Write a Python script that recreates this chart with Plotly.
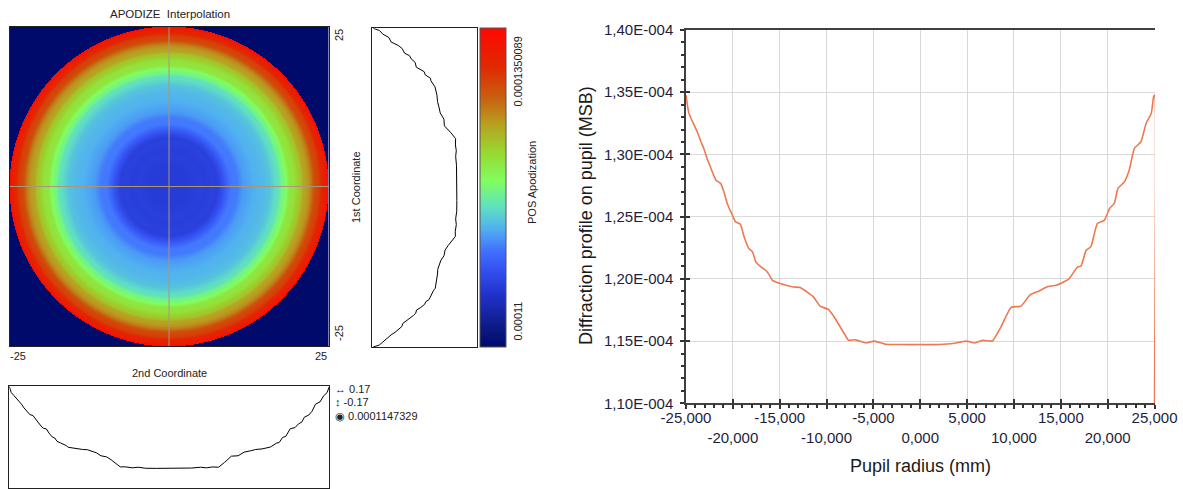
import numpy as np
import plotly.graph_objects as go

W, H = 1183, 489

# ---------------- data ----------------
pupil_radius_mm = [-25.0, -24.7, -24.3, -23.8, -23.4, -23.1, -22.7, -22.4, -21.8, -21.3, -20.9, -20.6,
                   -20.05, -19.7, -19.2, -18.8, -18.3, -17.9, -17.55, -17.0, -16.5, -16.1, -15.8, -14.96,
                   -13.54, -12.82, -12.1, -11.4, -10.68, -9.8, -9.08, -8.55, -8.0, -7.66, -6.9, -5.8,
                   -4.9, -3.7, -2.0, 0.0, 2.0, 3.5, 4.9, 5.8, 6.7, 7.7, 8.6, 9.7, 10.75, 11.7, 12.7,
                   13.5, 14.5, 15.8, 16.8, 17.15, 17.7, 18.2, 18.9, 19.65, 20.2, 20.7, 21.1, 21.8, 22.3,
                   22.85, 23.55, 24.1, 24.65, 24.9, 25.0, 25.0]
profile_e4 = [1.3477, 1.3334, 1.3263, 1.3182, 1.3102, 1.3048, 1.2955, 1.2901, 1.2793, 1.2767, 1.2687,
              1.2606, 1.2512, 1.2458, 1.2439, 1.2338, 1.2244, 1.2217, 1.2137, 1.2096, 1.2069, 1.2030,
              1.1990, 1.1963, 1.1935, 1.1930, 1.1895, 1.1855, 1.1780, 1.1754, 1.1681, 1.1614, 1.1547,
              1.1507, 1.1510, 1.1485, 1.1500, 1.1474, 1.1472, 1.1472, 1.1472, 1.1480, 1.1500, 1.1485,
              1.1506, 1.1501, 1.1613, 1.1771, 1.1781, 1.1870, 1.1903, 1.1935, 1.1949, 1.1995, 1.2096,
              1.2102, 1.2230, 1.2257, 1.2445, 1.2472, 1.2566, 1.2606, 1.2727, 1.2781, 1.2874, 1.3048,
              1.3102, 1.3249, 1.3330, 1.3463, 1.3477, 1.1000]

apod_min = 0.00011
apod_max = 0.0001350089
center_value = "0.0001147329"

y_tick_values_e4 = [1.10, 1.15, 1.20, 1.25, 1.30, 1.35, 1.40]
y_tick_labels = ["1,10E-004", "1,15E-004", "1,20E-004", "1,25E-004", "1,30E-004", "1,35E-004", "1,40E-004"]
x_tick_values = [-25, -20, -15, -10, -5, 0, 5, 10, 15, 20, 25]
x_tick_labels = ["-25,000", "-20,000", "-15,000", "-10,000", "-5,000", "0,000",
                 "5,000", "10,000", "15,000", "20,000", "25,000"]

# ---------------- derived ----------------
r_arr = np.array(pupil_radius_mm)
p_arr = np.array(profile_e4) * 1e-4
profile_r = r_arr[:-1]
profile_v = p_arr[:-1]
half = profile_r >= 0
r_half, v_half = profile_r[half], profile_v[half]

N = 321
grid = np.linspace(-25, 25, N)
GX, GY = np.meshgrid(grid, grid)
R = np.sqrt(GX ** 2 + GY ** 2)
Z = np.where(R <= 25, np.interp(R, r_half, v_half), apod_min)


def fx(px):
    return px / W


def fy(py):
    return 1 - py / H


FONT = "Arial, 'Liberation Sans', sans-serif"

colorscale = [
    [0.00, "#000a6a"], [0.08, "#101f90"], [0.16, "#2030c8"], [0.24, "#3350f0"],
    [0.30, "#4070ff"], [0.37, "#50b0f0"], [0.44, "#60e0c0"], [0.52, "#80ff60"],
    [0.61, "#98d830"], [0.70, "#b8a020"], [0.78, "#c86010"], [0.88, "#e02800"],
    [1.00, "#ff0800"],
]

fig = go.Figure()

fig.add_trace(go.Heatmap(
    x=grid, y=grid, z=Z, zmin=apod_min, zmax=apod_max, colorscale=colorscale,
    xaxis="x", yaxis="y", hoverinfo="skip",
    colorbar=dict(x=fx(479.5), xanchor="left", y=fy(28), yanchor="top",
                  len=319, lenmode="pixels", thickness=26, thicknessmode="pixels",
                  xpad=0, ypad=0, outlinewidth=1, outlinecolor="#555555",
                  showticklabels=False, ticks=""),
))

fig.add_trace(go.Scatter(x=profile_v, y=profile_r, mode="lines",
                         line=dict(color="black", width=1), xaxis="x2", yaxis="y2",
                         showlegend=False, hoverinfo="skip"))
fig.add_trace(go.Scatter(x=profile_r, y=profile_v, mode="lines",
                         line=dict(color="black", width=1), xaxis="x3", yaxis="y3",
                         showlegend=False, hoverinfo="skip"))
fig.add_trace(go.Scatter(x=r_arr, y=p_arr, mode="lines",
                         line=dict(color="#f07850", width=1.6, shape="spline", smoothing=0.5),
                         xaxis="x4", yaxis="y4", showlegend=False, hoverinfo="skip"))
fig.add_trace(go.Scatter(x=[0], y=[1.2e-4], mode="markers", marker=dict(opacity=0),
                         xaxis="x5", yaxis="y5", showlegend=False, hoverinfo="skip"))

box_axis = dict(showticklabels=False, ticks="", showgrid=False, zeroline=False,
                showline=True, mirror=True, linecolor="#222222", linewidth=1)

y_minor = [round(1.10 + 0.01 * i, 2) * 1e-4 for i in range(31)]
x_minor = list(range(-25, 26))

x4_common = dict(range=[-25, 25.05], tickmode="array", tickvals=x_tick_values,
                 ticklen=4, tickwidth=1.5, tickcolor="#333333",
                 minor=dict(tickmode="array", tickvals=x_minor, ticklen=3, tickwidth=1.5,
                            tickcolor="#333333", showgrid=False),
                 zeroline=False, domain=[fx(686), fx(1155)])
y4_common = dict(range=[1.10e-4, 1.40e-4], tickmode="array",
                 tickvals=[v * 1e-4 for v in y_tick_values_e4],
                 ticklen=4, tickwidth=1.5, tickcolor="#333333",
                 minor=dict(tickmode="array", tickvals=y_minor, ticklen=3, tickwidth=1.5,
                            tickcolor="#333333", showgrid=False),
                 zeroline=False, domain=[fy(403.3), fy(30)])

fig.update_layout(
    width=W, height=H, margin=dict(l=0, r=0, t=0, b=0, autoexpand=False),
    paper_bgcolor="white", plot_bgcolor="white",
    font=dict(family=FONT, size=11, color="#222222"),
    showlegend=False,
    xaxis=dict(domain=[fx(9.5), fx(328.5)], range=[-25, 25], anchor="y", **box_axis),
    yaxis=dict(domain=[fy(346), fy(27)], range=[-25, 25], anchor="x", **box_axis),
    xaxis2=dict(domain=[fx(372.3), fx(476.5)], range=[1.35e-4, 1.10e-4], anchor="y2", **box_axis),
    yaxis2=dict(domain=[fy(347), fy(28.3)], range=[-25, 25], anchor="x2", **box_axis),
    xaxis3=dict(domain=[fx(9.3), fx(329.3)], range=[-25, 25], anchor="y3", **box_axis),
    yaxis3=dict(domain=[fy(487.6), fy(385.7)], range=[1.10e-4, 1.35e-4], anchor="x3", **box_axis),
    xaxis4=dict(anchor="y4", ticks="outside", tickangle=0, ticktext=[
        (t if i % 2 == 0 else "\u00a0<br>" + t) for i, t in enumerate(x_tick_labels)],
        showgrid=True, gridcolor="#d9d9d9", gridwidth=1,
        showline=True, mirror=True, linecolor="#404040", linewidth=1.5,
        ticklabelstandoff=-4,
        tickfont=dict(size=15, color="#1e1e3c"), **x4_common),
    yaxis4=dict(anchor="x4", ticks="outside", ticktext=y_tick_labels,
                showgrid=True, gridcolor="#d9d9d9", gridwidth=1,
                showline=True, linecolor="#404040", linewidth=1.5,
                ticklabelstandoff=4,
                tickfont=dict(size=15, color="#1e1e3c"), **y4_common),
    xaxis5=dict(anchor="y5", overlaying="x4", ticks="inside", showticklabels=False,
                showgrid=False, showline=False, **x4_common),
    yaxis5=dict(anchor="x5", overlaying="y4", ticks="inside", showticklabels=False,
                showgrid=False, showline=False, **y4_common),
)

# crosshair in the heatmap
fig.add_shape(type="line", xref="x", yref="y", x0=0, x1=0, y0=-25, y1=25,
              line=dict(color="#a89878", width=1))
fig.add_shape(type="line", xref="x", yref="y", x0=-25, x1=25, y0=0, y1=0,
              line=dict(color="#a89878", width=1))

ann = []


def A(text, x, y, size=11, angle=0, color="#222222", xanchor="center"):
    ann.append(dict(text=text, x=fx(x), y=fy(y), xref="paper", yref="paper",
                    showarrow=False, textangle=angle, xanchor=xanchor, yanchor="middle",
                    font=dict(family=FONT, size=size, color=color)))


A("APODIZE  Interpolation", 170, 14, size=11.5)
A("2nd Coordinate", 169, 373)
A("1st Coordinate", 356, 187, angle=-90)
A("25", 339, 35, angle=-90)
A("-25", 339, 333, angle=-90)
A("-25", 18, 356)
A("25", 321, 356)
A("0.0001350089", 517, 71.5, angle=-90)
A("0.00011", 517, 321.5, angle=-90)
A("POS Apodization", 532, 183, angle=-90)
A("\u2194 0.17", 333, 389, xanchor="left")
A("\u2195 -0.17", 333, 402, xanchor="left")
A("\u25c9 " + center_value, 333, 416, xanchor="left")
A("Diffraction profile on pupil (MSB)", 586, 216, size=18, angle=-90, color="#1a1a1a")
A("Pupil radius (mm)", 920, 466, size=18, color="#1a1a1a")

fig.update_layout(annotations=ann)

fig.write_html("out.html", config={"displayModeBar": False},
               post_script="document.body.style.margin='0';document.body.style.overflow='hidden';")
